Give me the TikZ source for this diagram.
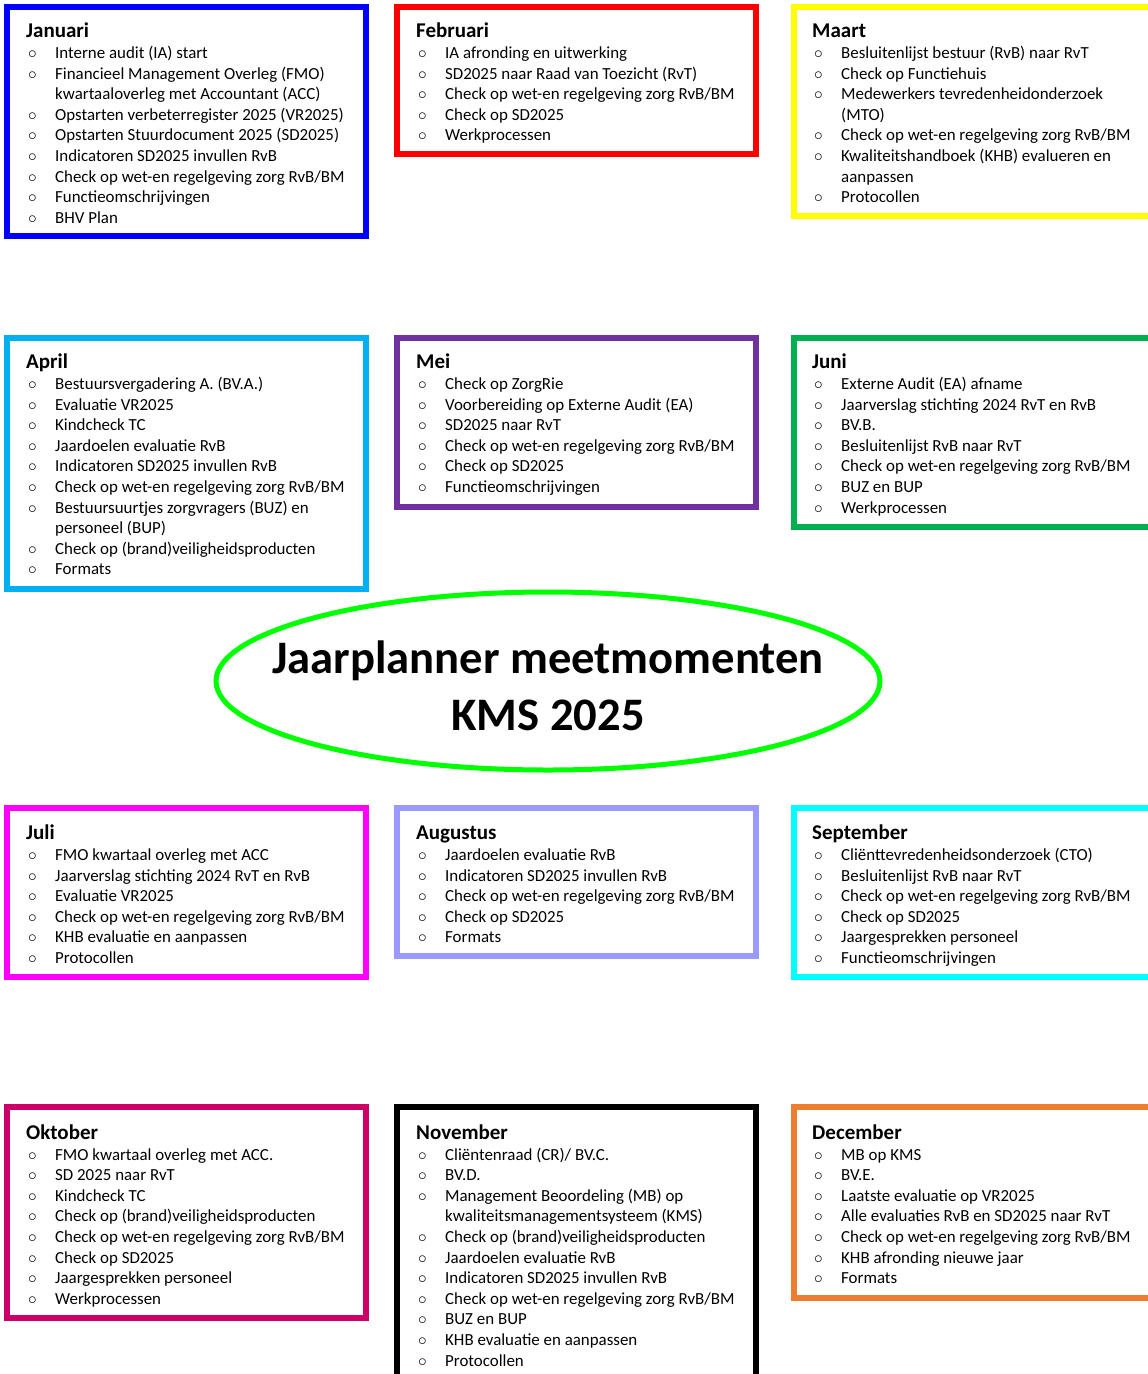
\documentclass[tikz,border=0pt]{standalone}
\usepackage{fontspec}
\setmainfont{Carlito}
\usepackage{tikz}
\usetikzlibrary{positioning, shapes.geometric}

\definecolor{janblue}{RGB}{0,0,255}
\definecolor{febred}{RGB}{255,0,0}
\definecolor{mrtyellow}{RGB}{255,255,0}
\definecolor{aprblue}{RGB}{0,176,240}
\definecolor{meipurple}{RGB}{112,48,160}
\definecolor{jungreen}{RGB}{0,176,80}
\definecolor{titlegreen}{RGB}{0,255,0}
\definecolor{julmagenta}{RGB}{255,0,255}
\definecolor{auglilac}{RGB}{153,153,255}
\definecolor{sepcyan}{RGB}{0,255,255}
\definecolor{oktpink}{RGB}{204,0,102}
\definecolor{decorange}{RGB}{237,125,49}

\newcommand{\itm}{\makebox[29pt][l]{\hspace{2pt}$\circ$}}
\newcommand{\itx}{\hspace*{29pt}}
\newcommand{\mhead}[1]{{\fontsize{21}{24}\selectfont\bfseries\vphantom{Jbdl}#1}\\}

\tikzset{
  frame/.style={draw=#1, line width=5.5pt, rectangle, anchor=north west, outer sep=0pt, inner sep=0pt},
  month/.style={align=left, inner sep=0pt, font=\fontsize{16.9}{20.6}\selectfont},
}

\begin{document}
\begin{tikzpicture}[x=1pt, y=-1pt]
\useasboundingbox (0,0) rectangle (1148,1374);
\clip (0,0) rectangle (1148,1374);

%% Januari
\node[frame=janblue, minimum width=359, minimum height=229] (jan) at (7,7) {};
\node[month, below right=16pt and 19pt of jan.north west] (janlist) {\mhead{Januari}
\itm Interne audit (IA) start\\
\itm Financieel Management Overleg (FMO)\\
\itx kwartaaloverleg met Accountant (ACC)\\
\itm Opstarten verbeterregister 2025 (VR2025)\\
\itm Opstarten Stuurdocument 2025 (SD2025)\\
\itm Indicatoren SD2025 invullen RvB\\
\itm Check op wet-en regelgeving zorg RvB/BM\\
\itm Functieomschrijvingen\\
\itm BHV Plan};

%% Februari
\node[frame=febred, minimum width=359, minimum height=147] (feb) at (397,7) {};
\node[month, below right=16pt and 19pt of feb.north west] (feblist) {\mhead{Februari}
\itm IA afronding en uitwerking\\
\itm SD2025 naar Raad van Toezicht (RvT)\\
\itm Check op wet-en regelgeving zorg RvB/BM\\
\itm Check op SD2025\\
\itm Werkprocessen};

%% Maart
\node[frame=mrtyellow, minimum width=380, minimum height=209] (mrt) at (794,7) {};
\node[month, below right=16pt and 18pt of mrt.north west] (mrtlist) {\mhead{Maart}
\itm Besluitenlijst bestuur (RvB) naar RvT\\
\itm Check op Functiehuis\\
\itm Medewerkers tevredenheidonderzoek\\
\itx (MTO)\\
\itm Check op wet-en regelgeving zorg RvB/BM\\
\itm Kwaliteitshandboek (KHB) evalueren en\\
\itx aanpassen\\
\itm Protocollen};

%% April
\node[frame=aprblue, minimum width=359, minimum height=251] (apr) at (7,338) {};
\node[month, below right=16pt and 19pt of apr.north west] (aprlist) {\mhead{April}
\itm Bestuursvergadering A. (BV.A.)\\
\itm Evaluatie VR2025\\
\itm Kindcheck TC\\
\itm Jaardoelen evaluatie RvB\\
\itm Indicatoren SD2025 invullen RvB\\
\itm Check op wet-en regelgeving zorg RvB/BM\\
\itm Bestuursuurtjes zorgvragers (BUZ) en\\
\itx personeel (BUP)\\
\itm Check op (brand)veiligheidsproducten\\
\itm Formats};

%% Mei
\node[frame=meipurple, minimum width=359, minimum height=169] (mei) at (397,338) {};
\node[month, below right=16pt and 19pt of mei.north west] (meilist) {\mhead{Mei}
\itm Check op ZorgRie\\
\itm Voorbereiding op Externe Audit (EA)\\
\itm SD2025 naar RvT\\
\itm Check op wet-en regelgeving zorg RvB/BM\\
\itm Check op SD2025\\
\itm Functieomschrijvingen};

%% Juni
\node[frame=jungreen, minimum width=380, minimum height=189] (jun) at (794,338) {};
\node[month, below right=16pt and 18pt of jun.north west] (junlist) {\mhead{Juni}
\itm Externe Audit (EA) afname\\
\itm Jaarverslag stichting 2024 RvT en RvB\\
\itm BV.B.\\
\itm Besluitenlijst RvB naar RvT\\
\itm Check op wet-en regelgeving zorg RvB/BM\\
\itm BUZ en BUP\\
\itm Werkprocessen};

%% titel
\node[align=center, font=\fontsize{46.6}{57}\selectfont\bfseries] (titel) at (548,686)
  {Jaarplanner meetmomenten\\KMS 2025};
\draw[titlegreen, line width=5pt] (548,681) ellipse [x radius=332pt, y radius=89pt];

%% Juli
\node[frame=julmagenta, minimum width=359, minimum height=169] (jul) at (7,808) {};
\node[month, below right=17pt and 19pt of jul.north west] (jullist) {\mhead{Juli}
\itm FMO kwartaal overleg met ACC\\
\itm Jaarverslag stichting 2024 RvT en RvB\\
\itm Evaluatie VR2025\\
\itm Check op wet-en regelgeving zorg RvB/BM\\
\itm KHB evaluatie en aanpassen\\
\itm Protocollen};

%% Augustus
\node[frame=auglilac, minimum width=359, minimum height=148] (aug) at (397,808) {};
\node[month, below right=17pt and 19pt of aug.north west] (auglist) {\mhead{Augustus}
\itm Jaardoelen evaluatie RvB\\
\itm Indicatoren SD2025 invullen RvB\\
\itm Check op wet-en regelgeving zorg RvB/BM\\
\itm Check op SD2025\\
\itm Formats};

%% September
\node[frame=sepcyan, minimum width=380, minimum height=169] (sep) at (794,808) {};
\node[month, below right=17pt and 18pt of sep.north west] (seplist) {\mhead{September}
\itm Cliënttevredenheidsonderzoek (CTO)\\
\itm Besluitenlijst RvB naar RvT\\
\itm Check op wet-en regelgeving zorg RvB/BM\\
\itm Check op SD2025\\
\itm Jaargesprekken personeel\\
\itm Functieomschrijvingen};

%% Oktober
\node[frame=oktpink, minimum width=359, minimum height=211] (okt) at (7,1107) {};
\node[month, below right=17.5pt and 19pt of okt.north west] (oktlist) {\mhead{Oktober}
\itm FMO kwartaal overleg met ACC.\\
\itm SD 2025 naar RvT\\
\itm Kindcheck TC\\
\itm Check op (brand)veiligheidsproducten\\
\itm Check op wet-en regelgeving zorg RvB/BM\\
\itm Check op SD2025\\
\itm Jaargesprekken personeel\\
\itm Werkprocessen};

%% November
\node[frame=black, minimum width=359, minimum height=300] (nov) at (397,1107) {};
\node[month, below right=17.5pt and 19pt of nov.north west] (novlist) {\mhead{November}
\itm Cliëntenraad (CR)/ BV.C.\\
\itm BV.D.\\
\itm Management Beoordeling (MB) op\\
\itx kwaliteitsmanagementsysteem (KMS)\\
\itm Check op (brand)veiligheidsproducten\\
\itm Jaardoelen evaluatie RvB\\
\itm Indicatoren SD2025 invullen RvB\\
\itm Check op wet-en regelgeving zorg RvB/BM\\
\itm BUZ en BUP\\
\itm KHB evaluatie en aanpassen\\
\itm Protocollen};

%% December
\node[frame=decorange, minimum width=380, minimum height=191] (dec) at (794,1107) {};
\node[month, below right=17.5pt and 18pt of dec.north west] (declist) {\mhead{December}
\itm MB op KMS\\
\itm BV.E.\\
\itm Laatste evaluatie op VR2025\\
\itm Alle evaluaties RvB en SD2025 naar RvT\\
\itm Check op wet-en regelgeving zorg RvB/BM\\
\itm KHB afronding nieuwe jaar\\
\itm Formats};
\end{tikzpicture}
\end{document}
